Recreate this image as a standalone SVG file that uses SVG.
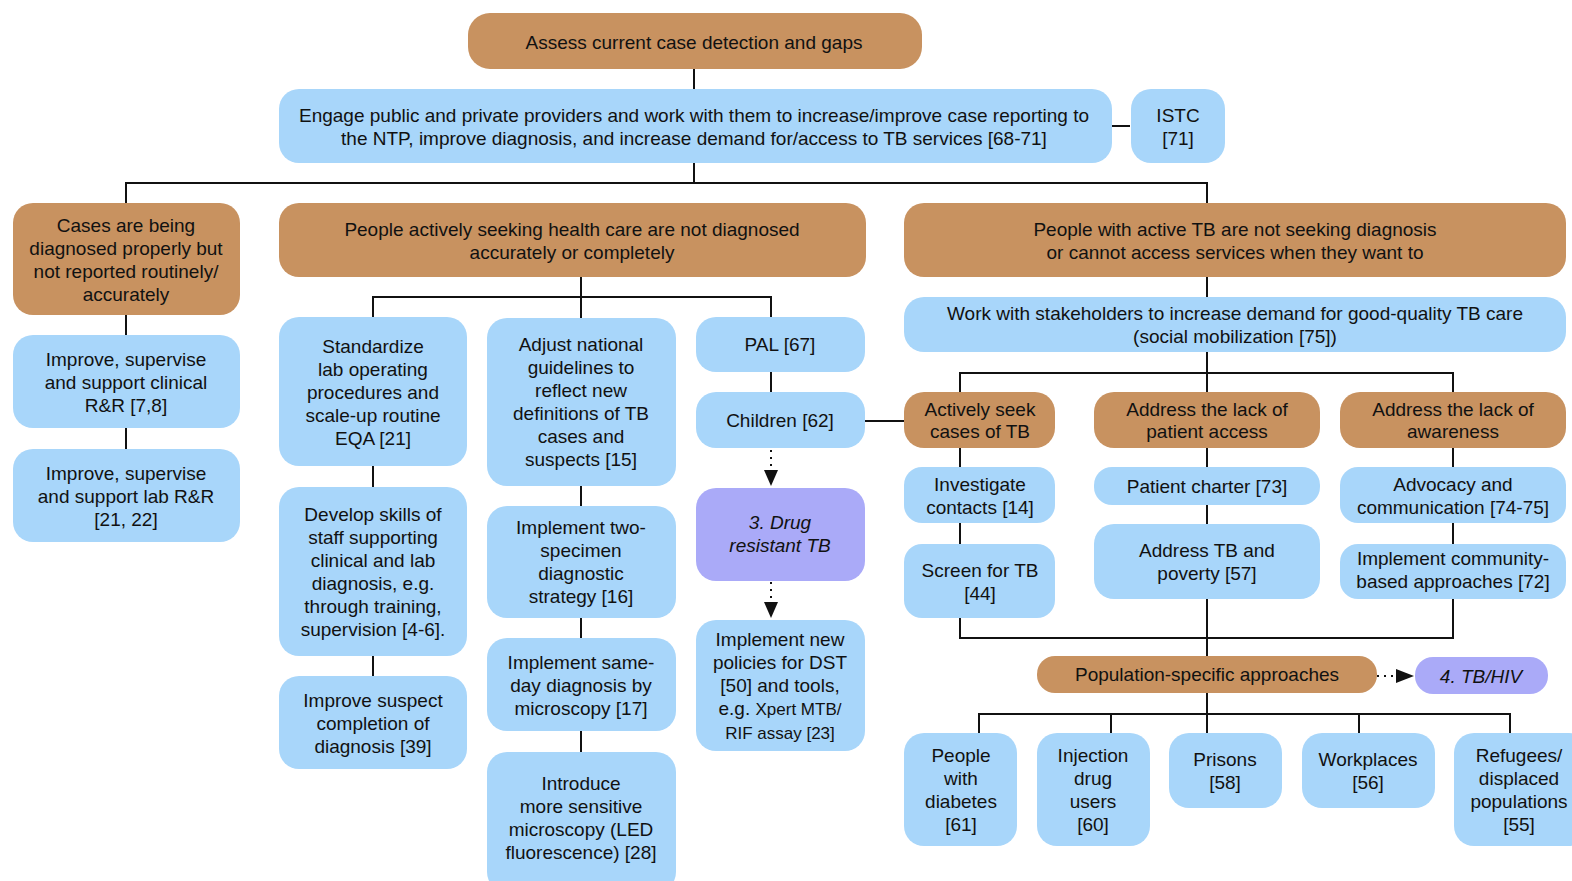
<svg xmlns="http://www.w3.org/2000/svg" width="1572" height="881" viewBox="0 0 1572 881">
<defs>
<style>
.b{fill:#C89260}
.l{fill:#A8D6FA}
.p{fill:#AAAAF8}
text{font-family:"Liberation Sans",Arial,sans-serif;font-size:19px;fill:#111;text-anchor:middle}
.i{font-style:italic}
.s{font-size:17px}
.c{fill:none;stroke:#111;stroke-width:2}
.d{fill:none;stroke:#111;stroke-width:2;stroke-dasharray:2 5}
</style>
</defs>
<rect width="1572" height="881" fill="#fff"/>
<g id="connectors">
<path class="c" d="M694,69 V89 M1110,126 H1130 M694,163 V183 M126,203 V183 H1207 V203"/>
<path class="c" d="M126,315 V335 M126,428 V449"/>
<path class="c" d="M581,277 V297 M373,317 V297 H771 V317 M581,297 V318"/>
<path class="c" d="M373,466 V487 M373,656 V676"/>
<path class="c" d="M581,486 V506 M581,618 V638 M581,731 V752"/>
<path class="c" d="M771,372 V392 M865,421 H904"/>
<path class="d" d="M771,450 V470"/>
<path class="d" d="M771,582 V602"/>
<path class="c" d="M1207,277 V297 M1207,352 V392 M960,392 V373 H1453 V392"/>
<path class="c" d="M960,448 V467 M1207,448 V467 M1453,448 V467"/>
<path class="c" d="M960,523 V544 M1207,505 V524 M1453,523 V544"/>
<path class="c" d="M960,618 V638 H1453 V599 M1207,599 V656"/>
<path class="d" d="M1377,676 H1395"/>
<path class="c" d="M1207,693 V733 M979,733 V714 H1510 V733 M1111,714 V733 M1359,714 V733"/>
<path d="M764,470 L778,470 L771,486 z" fill="#111"/>
<path d="M764,602 L778,602 L771,618 z" fill="#111"/>
<path d="M1396,669 L1396,683 L1414,676 z" fill="#111"/>
</g>
<g id="n-assess"><rect class="b" x="468" y="13" width="454" height="56" rx="22"/><text x="694" y="49">Assess current case detection and gaps</text></g>
<g id="n-engage"><rect class="l" x="279" y="89" width="833" height="74" rx="20"/><text x="694" y="122">Engage public and private providers and work with them to increase/improve case reporting to</text><text x="694" y="145">the NTP, improve diagnosis, and increase demand for/access to TB services [68-71]</text></g>
<g id="n-istc"><rect class="l" x="1131" y="89" width="94" height="74" rx="20"/><text x="1178" y="122">ISTC</text><text x="1178" y="145">[71]</text></g>
<g id="n-cases"><rect class="b" x="13" y="203" width="227" height="112" rx="20"/><text x="126" y="232">Cases are being</text><text x="126" y="255">diagnosed properly but</text><text x="126" y="278">not reported routinely/</text><text x="126" y="301">accurately</text></g>
<g id="n-seeking"><rect class="b" x="279" y="203" width="587" height="74" rx="20"/><text x="572" y="236">People actively seeking health care are not diagnosed</text><text x="572" y="259">accurately or completely</text></g>
<g id="n-notseeking"><rect class="b" x="904" y="203" width="662" height="74" rx="20"/><text x="1235" y="236">People with active TB are not seeking diagnosis</text><text x="1235" y="259">or cannot access services when they want to</text></g>
<g id="n-clinical"><rect class="l" x="13" y="335" width="227" height="93" rx="20"/><text x="126" y="366">Improve, supervise</text><text x="126" y="389">and support clinical</text><text x="126" y="412">R&amp;R [7,8]</text></g>
<g id="n-lab"><rect class="l" x="13" y="449" width="227" height="93" rx="20"/><text x="126" y="480">Improve, supervise</text><text x="126" y="503">and support lab R&amp;R</text><text x="126" y="526">[21, 22]</text></g>
<g id="n-standardize"><rect class="l" x="279" y="317" width="188" height="149" rx="20"/><text x="373" y="353">Standardize</text><text x="373" y="376">lab operating</text><text x="373" y="399">procedures and</text><text x="373" y="422">scale-up routine</text><text x="373" y="445">EQA [21]</text></g>
<g id="n-skills"><rect class="l" x="279" y="487" width="188" height="169" rx="20"/><text x="373" y="521">Develop skills of</text><text x="373" y="544">staff supporting</text><text x="373" y="567">clinical and lab</text><text x="373" y="590">diagnosis, e.g.</text><text x="373" y="613">through training,</text><text x="373" y="636">supervision [4-6].</text></g>
<g id="n-suspect"><rect class="l" x="279" y="676" width="188" height="93" rx="20"/><text x="373" y="707">Improve suspect</text><text x="373" y="730">completion of</text><text x="373" y="753">diagnosis [39]</text></g>
<g id="n-guidelines"><rect class="l" x="487" y="318" width="189" height="168" rx="20"/><text x="581" y="351">Adjust national</text><text x="581" y="374">guidelines to</text><text x="581" y="397">reflect new</text><text x="581" y="420">definitions of TB</text><text x="581" y="443">cases and</text><text x="581" y="466">suspects [15]</text></g>
<g id="n-twospecimen"><rect class="l" x="487" y="506" width="189" height="112" rx="20"/><text x="581" y="534">Implement two-</text><text x="581" y="557">specimen</text><text x="581" y="580">diagnostic</text><text x="581" y="603">strategy [16]</text></g>
<g id="n-sameday"><rect class="l" x="487" y="638" width="189" height="93" rx="20"/><text x="581" y="669">Implement same-</text><text x="581" y="692">day diagnosis by</text><text x="581" y="715">microscopy [17]</text></g>
<g id="n-led"><rect class="l" x="487" y="752" width="189" height="140" rx="20"/><text x="581" y="790">Introduce</text><text x="581" y="813">more sensitive</text><text x="581" y="836">microscopy (LED</text><text x="581" y="859">fluorescence) [28]</text></g>
<g id="n-pal"><rect class="l" x="696" y="317" width="169" height="55" rx="20"/><text x="780" y="351">PAL [67]</text></g>
<g id="n-children"><rect class="l" x="696" y="392" width="169" height="56" rx="20"/><text x="780" y="427">Children [62]</text></g>
<g id="n-drug"><rect class="p" x="696" y="488" width="169" height="93" rx="20"/><text class="i" x="780" y="529">3. Drug</text><text class="i" x="780" y="552">resistant TB</text></g>
<g id="n-dst"><rect class="l" x="696" y="620" width="169" height="131" rx="20"/><text x="780" y="646">Implement new</text><text x="780" y="669">policies for DST</text><text x="780" y="692">[50] and tools,</text><text x="780" y="715">e.g. <tspan class="s">Xpert MTB/</tspan></text><text class="s" x="780" y="739">RIF assay [23]</text></g>
<g id="n-stakeholders"><rect class="l" x="904" y="297" width="662" height="55" rx="20"/><text x="1235" y="320">Work with stakeholders to increase demand for good-quality TB care</text><text x="1235" y="343">(social mobilization [75])</text></g>
<g id="n-activelyseek"><rect class="b" x="904" y="392" width="151" height="56" rx="20"/><text x="980" y="416">Actively seek</text><text x="980" y="438">cases of TB</text></g>
<g id="n-access"><rect class="b" x="1094" y="392" width="226" height="56" rx="20"/><text x="1207" y="416">Address the lack of</text><text x="1207" y="438">patient access</text></g>
<g id="n-awareness"><rect class="b" x="1340" y="392" width="226" height="56" rx="20"/><text x="1453" y="416">Address the lack of</text><text x="1453" y="438">awareness</text></g>
<g id="n-contacts"><rect class="l" x="904" y="467" width="151" height="56" rx="18"/><text x="980" y="491">Investigate</text><text x="980" y="514">contacts [14]</text></g>
<g id="n-screen"><rect class="l" x="904" y="544" width="151" height="74" rx="18"/><text x="980" y="577">Screen for TB</text><text x="980" y="600">[44]</text></g>
<g id="n-charter"><rect class="l" x="1094" y="467" width="226" height="38" rx="18"/><text x="1207" y="493">Patient charter [73]</text></g>
<g id="n-poverty"><rect class="l" x="1094" y="524" width="226" height="75" rx="20"/><text x="1207" y="557">Address TB and</text><text x="1207" y="580">poverty [57]</text></g>
<g id="n-advocacy"><rect class="l" x="1340" y="467" width="226" height="56" rx="18"/><text x="1453" y="491">Advocacy and</text><text x="1453" y="514">communication [74-75]</text></g>
<g id="n-community"><rect class="l" x="1340" y="544" width="226" height="55" rx="18"/><text x="1453" y="565">Implement community-</text><text x="1453" y="588">based approaches [72]</text></g>
<g id="n-population"><rect class="b" x="1037" y="656" width="340" height="37" rx="18"/><text x="1207" y="681">Population-specific approaches</text></g>
<g id="n-tbhiv"><rect class="p" x="1415" y="657" width="133" height="37" rx="18"/><text class="i" x="1481" y="683">4. TB/HIV</text></g>
<g id="n-diabetes"><rect class="l" x="904" y="733" width="113" height="113" rx="20"/><text x="961" y="762">People</text><text x="961" y="785">with</text><text x="961" y="808">diabetes</text><text x="961" y="831">[61]</text></g>
<g id="n-idu"><rect class="l" x="1037" y="733" width="113" height="113" rx="20"/><text x="1093" y="762">Injection</text><text x="1093" y="785">drug</text><text x="1093" y="808">users</text><text x="1093" y="831">[60]</text></g>
<g id="n-prisons"><rect class="l" x="1169" y="733" width="113" height="75" rx="20"/><text x="1225" y="766">Prisons</text><text x="1225" y="789">[58]</text></g>
<g id="n-workplaces"><rect class="l" x="1302" y="733" width="133" height="75" rx="20"/><text x="1368" y="766">Workplaces</text><text x="1368" y="789">[56]</text></g>
<g id="n-refugees"><rect class="l" x="1454" y="733" width="135" height="113" rx="20"/><text x="1519" y="762">Refugees/</text><text x="1519" y="785">displaced</text><text x="1519" y="808">populations</text><text x="1519" y="831">[55]</text></g>
</svg>
